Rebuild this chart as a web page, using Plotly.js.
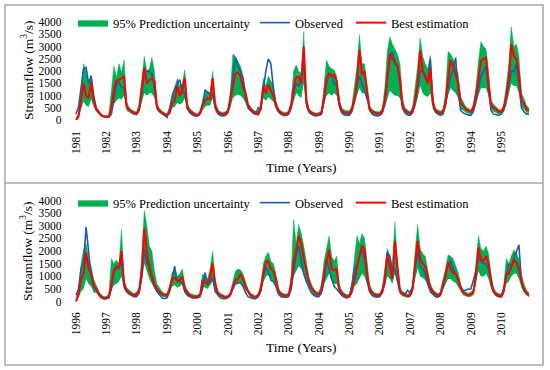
<!DOCTYPE html>
<html>
<head>
<meta charset="utf-8">
<script src="https://cdn.plot.ly/plotly-3.0.1.min.js"></script>
<style>html,body{margin:0;padding:0;background:#fff}#chart{width:550px;height:370px}</style>
</head>
<body>
<div id="chart"></div>
<script>
// ---------- DATA (monthly streamflow, m3/s) ----------
const years1 = ["1981","1982","1983","1984","1985","1986","1987","1988","1989","1990","1991","1992","1993","1994","1995"];
const years2 = ["1996","1997","1998","1999","2000","2001","2002","2003","2004","2005","2006","2007","2008","2009","2010"];

// Panel 1: 1981-1995
const observed1 = [
 250,550,1300,2100,2150,1500,1800,1000,500,320,220,160,
 150,130,250,900,1450,1550,1350,1300,600,420,330,280,
 250,400,1100,1900,2000,2000,1900,1300,500,350,280,200,
 120,450,900,1300,1500,1650,1150,1100,500,300,220,180,
 180,250,600,1250,1100,1100,1050,500,280,200,180,200,
 300,900,1800,2550,2200,2000,1700,900,500,400,300,250,
 500,400,1300,2000,2500,2300,1300,600,350,250,200,200,
 250,500,1100,1500,1400,1600,2400,700,350,250,200,180,
 200,250,800,1500,1900,1850,1500,1400,600,300,220,200,
 200,350,800,1400,1800,1500,1200,900,450,250,200,180,
 200,300,700,1500,2500,2800,2300,2200,1500,500,300,220,
 200,300,700,1300,2000,2000,1700,1600,2500,700,350,250,
 200,250,600,1300,1800,2000,2550,1200,400,300,250,220,
 200,350,800,1300,1800,2000,2200,1200,400,250,220,200,
 250,400,900,1500,2000,2000,2300,1500,500,350,250,250
];
const best1 = [
 20,150,800,1500,1000,900,1550,800,450,300,200,140,
 130,150,500,1250,1600,1650,1700,1800,550,420,350,300,
 280,500,1300,2150,1500,1650,1700,1600,550,400,320,250,
 220,300,700,800,1400,1000,1200,1720,500,380,300,240,
 200,300,600,800,900,850,1720,600,350,280,250,280,
 350,800,1400,1900,1950,1800,1350,1100,600,450,350,300,
 250,500,1400,1100,1450,1200,1000,600,400,300,250,250,
 300,600,1300,1750,1750,1500,3000,800,400,300,250,230,
 250,300,900,1700,1900,1800,1850,1600,700,400,320,300,
 300,450,900,1500,2870,1850,2000,1200,450,350,300,280,
 280,350,800,1700,2700,2500,2400,2200,1700,600,400,320,
 280,400,800,1500,2850,2000,1800,1500,2100,700,400,330,
 300,350,700,1700,2450,2200,1800,1500,700,600,450,400,
 350,500,1000,1700,2400,2500,2550,1500,600,500,450,350,
 350,500,1000,1700,3100,2600,2500,1900,800,700,450,400
];
const upper1 = [
 80,300,1300,2300,2000,1500,1850,1000,550,380,260,190,
 180,250,1100,2200,1750,2300,1950,2450,750,520,430,370,
 330,700,1800,2600,2000,2100,2560,2000,700,480,380,300,
 280,550,1100,1300,1700,1400,1500,2050,700,480,380,300,
 260,380,800,1100,1200,1100,2000,800,450,350,320,350,
 450,1200,2700,2600,2400,2200,1800,1300,700,550,420,380,
 350,700,1700,1400,1800,1600,1400,800,500,380,330,320,
 380,800,2000,2250,2000,1900,3600,1000,480,380,320,300,
 320,400,1400,2450,2200,2100,2050,1800,900,500,420,400,
 380,600,1300,2200,3480,2300,2300,1500,600,450,380,350,
 350,500,1300,2800,3400,3100,2900,2700,2300,900,500,420,
 350,550,1300,2200,3350,2600,2300,2100,2650,1000,500,420,
 380,450,1100,2800,2700,2500,2200,1900,950,750,550,480,
 420,650,1300,2400,3200,3000,2900,2000,800,650,550,450,
 420,650,1400,2300,3800,3000,3100,2600,1100,900,600,500
];
const lower1 = [
 0,80,450,750,600,550,850,550,350,230,150,100,
 80,100,350,650,800,900,850,1000,400,320,260,220,
 200,350,700,1100,1000,1100,1100,900,400,300,230,170,
 150,250,500,550,700,650,700,900,400,280,220,160,
 140,200,400,550,600,600,900,400,250,190,160,180,
 250,500,900,1000,1050,1000,900,700,450,350,250,220,
 180,350,900,800,950,850,750,450,300,220,180,180,
 220,400,800,1100,1000,900,1500,500,300,220,180,170,
 180,220,600,1000,1100,1000,1100,1000,500,300,250,230,
 200,300,600,1000,1300,1100,1100,800,350,260,220,200,
 200,250,500,900,1200,1100,1000,1000,900,450,300,250,
 200,280,500,900,1400,1100,1000,950,1100,450,300,250,
 220,270,500,1000,1300,1200,1100,900,450,400,320,280,
 250,350,600,1000,1300,1300,1300,1000,450,350,300,250,
 250,350,600,1000,1500,1400,1400,1100,550,450,320,300
];

// Panel 2: 1996-2010
const observed2 = [
 250,500,1300,1550,2950,2100,1000,600,450,250,150,120,
 120,150,500,1200,1300,1300,1600,600,400,300,250,200,
 200,350,1000,2100,1500,1500,900,600,400,250,150,120,
 150,400,900,1400,800,800,750,400,250,200,150,150,
 150,200,500,1150,700,800,950,400,250,150,120,120,
 150,250,500,750,750,750,600,350,200,150,120,120,
 200,400,1000,1350,1200,850,800,600,300,200,180,170,
 200,500,1200,1900,2200,1700,1100,800,550,350,250,200,
 200,350,800,1650,1300,900,600,500,350,250,180,150,
 200,600,1300,1450,1800,2050,1700,900,400,250,200,180,
 200,350,700,1950,1800,1200,1300,900,400,350,300,450,
 350,600,1300,2000,1400,1300,1100,700,400,300,200,180,
 250,600,1000,1500,1600,1300,1100,800,550,450,450,500,
 500,850,1200,1800,1600,1500,1500,1300,700,400,250,200,
 200,500,1000,1500,1400,1700,2000,2250,800,500,300,250
];
const best2 = [
 0,300,900,1100,1950,1300,1100,600,550,300,200,150,
 150,200,700,1250,1400,1350,2000,700,450,350,300,250,
 300,450,1200,2900,2000,1300,1000,700,500,400,300,250,
 250,500,900,950,800,850,1000,500,350,250,200,200,
 200,250,850,750,700,1000,1500,700,350,250,200,180,
 200,300,600,850,900,1100,900,600,400,250,200,180,
 250,500,1100,1550,1600,1300,1200,900,400,300,250,230,
 250,700,1600,2000,2600,2300,1700,1200,800,550,400,300,
 300,500,1100,1600,2050,1300,1250,1300,500,350,250,200,
 200,400,900,1400,1800,2200,2100,1100,500,350,280,250,
 250,400,900,1850,1300,900,2400,1300,400,300,250,220,
 250,500,1500,2400,1700,1500,1400,900,550,400,300,250,
 300,700,1000,1550,1300,1100,1100,900,550,350,300,250,
 300,350,1000,2150,1700,1600,1800,1500,800,400,300,250,
 200,400,1100,1100,1400,1650,1550,1300,800,500,350,250
];
const upper2 = [
 50,400,1500,2050,2300,1700,1400,900,650,400,280,200,
 220,300,1700,1500,1650,1500,2850,900,550,450,380,320,
 380,600,1800,3600,3000,2200,2000,1200,700,550,400,330,
 330,650,1150,1300,1000,1100,1300,700,450,330,280,260,
 260,330,1100,1000,900,1300,2000,900,450,330,270,240,
 250,380,800,1200,1300,1250,1100,750,500,330,270,240,
 320,700,1500,1800,1950,1600,1500,1100,550,380,320,300,
 350,1000,3250,2300,3050,2700,2200,1500,1000,700,500,400,
 380,700,1600,2100,2600,1800,1600,1800,700,450,330,280,
 300,800,1800,2600,2300,2700,2500,1500,700,450,350,320,
 330,550,1300,2100,1800,1400,3150,1600,600,400,330,300,
 330,700,2000,3050,2100,1900,1800,1200,700,500,380,320,
 380,900,1300,1850,1800,1700,1450,1150,700,450,380,330,
 380,500,1500,2600,2100,2000,2200,1900,1100,550,380,320,
 300,600,1700,1500,1800,2050,1900,1700,1100,700,450,350
];
const lower2 = [
 0,150,400,500,900,700,600,350,350,200,120,80,
 100,130,500,650,700,800,1000,500,350,270,220,180,
 220,350,800,1500,1200,900,700,500,350,250,200,170,
 180,350,600,650,550,600,700,350,250,180,140,140,
 140,180,600,550,500,650,800,450,250,180,140,130,
 140,200,450,650,700,750,600,450,300,180,140,130,
 180,350,750,1000,1050,900,800,650,300,220,180,170,
 180,450,1000,1200,1400,1300,1000,750,500,350,250,200,
 200,350,700,900,1100,800,700,700,350,250,180,150,
 150,300,600,700,900,1100,1000,650,350,250,200,180,
 180,300,600,1000,900,700,1100,700,300,220,180,160,
 180,350,900,1300,1000,950,850,600,350,270,200,180,
 200,450,700,900,900,800,750,600,400,250,220,190,
 200,250,700,1200,1000,1000,1100,900,500,300,220,180,
 150,300,700,800,1000,1100,1100,900,550,350,250,180
];
const yTicks = [0,500,1000,1500,2000,2500,3000,3500,4000];

// ---------- STYLE / LAYOUT ----------
const W = 550, H = 370;
const px = v => v / W;
const py = v => 1 - v / H;
const FONT = "Liberation Serif, Times New Roman, serif";
const GREEN = "#00b050", BLUE = "#1d5ca6", RED = "#ff0000";
const month = observed1.map((_, i) => i);
const tickPos = years1.map((_, i) => i * 12);

function panel(lo, up, obs, best, xa, ya, lg) {
  return [
    {x: month, y: lo, xaxis: xa, yaxis: ya, type: "scatter", mode: "lines",
     line: {width: 0, color: GREEN}, showlegend: false, hoverinfo: "skip"},
    {x: month, y: up, xaxis: xa, yaxis: ya, type: "scatter", mode: "lines",
     fill: "tonexty", fillcolor: GREEN, line: {width: 0.5, color: GREEN},
     name: "95% Prediction uncertainty", legend: lg[0]},
    {x: month, y: obs, xaxis: xa, yaxis: ya, type: "scatter", mode: "lines",
     line: {width: 1.6, color: BLUE}, name: "Observed", legend: lg[1]},
    {x: month, y: best, xaxis: xa, yaxis: ya, type: "scatter", mode: "lines",
     line: {width: 2, color: RED}, name: "Best estimation", legend: lg[2]}
  ];
}

const data = [
  ...panel(lower1, upper1, observed1, best1, "x", "y", ["legend", "legend2", "legend3"]),
  ...panel(lower2, upper2, observed2, best2, "x2", "y2", ["legend4", "legend5", "legend6"])
];

function xAxis(anchor, ticktext) {
  return {
    type: "linear",
    domain: [px(74.7), px(530.3)], range: [-0.5, 179.5], anchor: anchor,
    tickmode: "array", tickvals: tickPos, ticktext: ticktext, tickangle: -90,
    showgrid: false, zeroline: false, showline: false, ticks: "outside",
    ticklen: 5, tickcolor: "rgba(0,0,0,0)", automargin: false,
    tickfont: {family: FONT, size: 11.5, color: "#000"}, fixedrange: true
  };
}
function yAxis(anchor, bottom, top) {
  return {
    domain: [py(bottom), py(top)], range: [0, 4000], anchor: anchor,
    tickmode: "array", tickvals: yTicks,
    showgrid: false, zeroline: false, showline: false, ticks: "outside",
    ticklen: 10, tickcolor: "rgba(0,0,0,0)",
    tickfont: {family: FONT, size: 11.5, color: "#000"}, fixedrange: true
  };
}
function leg(xPix, yPix) {
  return {x: px(xPix), y: py(yPix), xanchor: "left", yanchor: "middle",
          orientation: "h", bgcolor: "rgba(0,0,0,0)", borderwidth: 0,
          itemwidth: 30, font: {family: FONT, size: 12.5, color: "#000"}};
}

const layout = {
  width: W, height: H,
  margin: {l: 0, r: 0, t: 0, b: 0},
  paper_bgcolor: "#fff", plot_bgcolor: "#fff",
  showlegend: true,
  xaxis: xAxis("y", years1),
  yaxis: yAxis("x", 120.3, 22),
  xaxis2: xAxis("y2", years2),
  yaxis2: yAxis("x2", 301.7, 200.5),
  legend: leg(73, 23), legend2: leg(255, 23), legend3: leg(351, 23),
  legend4: leg(73, 203), legend5: leg(255, 203), legend6: leg(351, 203),
  annotations: [
    {text: "Streamflow (m<sup>3</sup>/s)", xref: "paper", yref: "paper",
     x: px(27), y: py(70), textangle: -90, showarrow: false,
     xanchor: "center", yanchor: "middle", font: {family: FONT, size: 13.5, color: "#000"}},
    {text: "Streamflow (m<sup>3</sup>/s)", xref: "paper", yref: "paper",
     x: px(27), y: py(251), textangle: -90, showarrow: false,
     xanchor: "center", yanchor: "middle", font: {family: FONT, size: 13.5, color: "#000"}},
    {text: "Time (Years)", xref: "paper", yref: "paper", x: px(301), y: py(167),
     showarrow: false, xanchor: "center", yanchor: "middle",
     font: {family: FONT, size: 13.5, color: "#000"}},
    {text: "Time (Years)", xref: "paper", yref: "paper", x: px(301), y: py(347),
     showarrow: false, xanchor: "center", yanchor: "middle",
     font: {family: FONT, size: 13.5, color: "#000"}}
  ],
  shapes: [
    {type: "rect", xref: "paper", yref: "paper", x0: px(5), x1: px(543), y0: py(365), y1: py(5),
     line: {color: "#a6a6a6", width: 1.5}, fillcolor: "rgba(0,0,0,0)", layer: "below"},
    {type: "line", xref: "paper", yref: "paper", x0: px(5), x1: px(543), y0: py(183), y1: py(183),
     line: {color: "#a6a6a6", width: 1.5}, layer: "below"}
  ]
};

Plotly.newPlot("chart", data, layout, {displayModeBar: false, staticPlot: true});
</script>
</body>
</html>
